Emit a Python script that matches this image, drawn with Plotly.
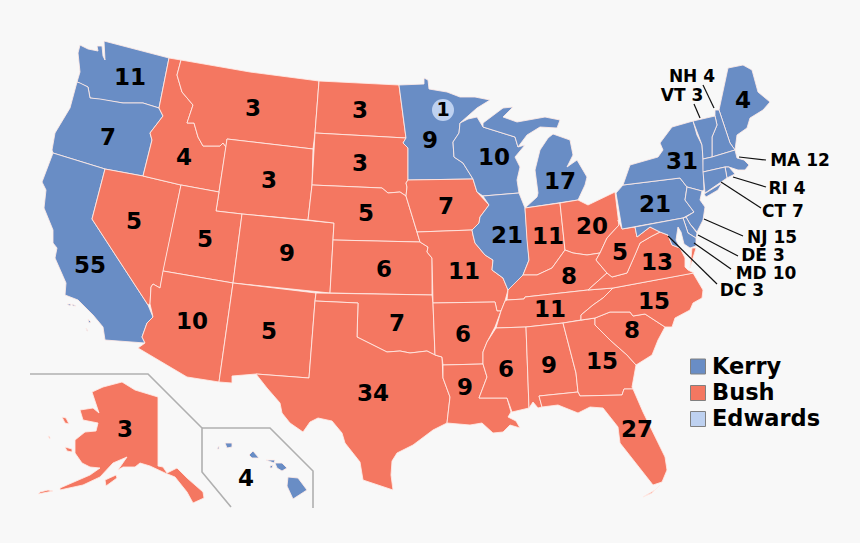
import plotly.graph_objects as go

# Party results
KERRY = "#698dc5"
BUSH = "#f47761"
EDWARDS = "#bed1f0"
BG = "#f8f8f8"

states = ["WA","OR","CA","NV","ID","MT","WY","UT","CO","AZ","NM","ND","SD","NE","KS","OK","TX","MN","IA","MO","AR","LA",
          "WI","IL","MI","IN","OH","KY","TN","MS","AL","GA","FL","SC","NC","VA","WV","PA","NY","ME","AK","HI",
          "NH","VT","MA","RI","CT","NJ","DE","MD","DC"]
votes = [11,7,55,5,4,3,3,5,9,10,5,3,3,5,6,7,34,9,7,11,6,9,10,21,17,11,20,8,11,6,9,15,27,8,15,13,5,21,31,4,3,4,
         4,3,12,4,7,15,3,10,3]
kerry_states = ["WA","OR","CA","MN","WI","IL","MI","PA","NY","ME","HI","NH","VT","MA","RI","CT","NJ","DE","MD","DC"]

# State outlines; there is no offline basemap
outlines = {
"WA": [[(104,41),(169,58),(159,108),(143,103),(123,103),(100,99),(90,98),(88,87),(80,83),(77,82),(80,72),(78,53),(80,45),(88,49),(98,51),(97,46),(102,46),(103,56),(105,60)]],
"OR": [[(77,82),(80,83),(88,87),(90,98),(100,99),(123,103),(143,103),(159,108),(163,116),(150,133),(152,140),(143,176),(105,169),(53,153),(52,150),(55,133),(70,108)]],
"CA": [[(53,153),(105,169),(92,219),(148,305),(153,317),(147,323),(142,337),(145,343),(105,340),(103,327),(93,315),(78,300),(65,295),(66,283),(55,258),(57,248),(53,243),(53,230),(44,208),(46,190),(42,182),(50,160)],
       [(67,304),(71,304),(70,306)],[(72,304),(76,306),(73,306)],[(88,319),(91,322),(89,323)],[(86,328),(88,331),(87,331)]],
"NV": [[(105,169),(143,176),(181,185),(163,271),(160,288),(153,284),(151,287),(150,304),(148,305),(92,219)]],
"ID": [[(169,58),(181,60),(177,75),(182,92),(193,105),(187,123),(194,123),(198,137),(203,146),(220,146),(223,143),(226,147),(219,192),(181,185),(143,176),(152,140),(150,133),(163,116),(159,108)]],
"MT": [[(181,60),(250,72),(319,81),(315,133),(313,149),(227,139),(226,147),(223,143),(220,146),(203,146),(198,137),(194,123),(187,123),(193,105),(182,92),(177,75)]],
"WY": [[(227,139),(313,149),(312,185),(308,220),(242,214),(216,211),(219,192)]],
"UT": [[(181,185),(219,192),(216,211),(242,214),(233,283),(163,271)]],
"CO": [[(242,214),(308,220),(334,223),(333,240),(330,293),(233,283)]],
"AZ": [[(163,271),(233,283),(219,382),(187,377),(138,348),(145,343),(142,337),(147,323),(153,317),(150,304),(151,287),(153,284),(160,288)]],
"NM": [[(233,283),(316,293),(315,301),(309,378),(256,374),(232,376),(232,383),(219,382)]],
"ND": [[(319,81),(399,85),(406,138),(315,133)]],
"SD": [[(315,133),(406,138),(403,143),(408,148),(408,180),(406,183),(407,187),(406,196),(400,192),(388,193),(382,188),(312,185)]],
"NE": [[(312,185),(382,188),(388,193),(400,192),(406,196),(417,232),(420,242),(333,240),(334,223),(308,220)]],
"KS": [[(333,240),(420,242),(428,247),(427,252),(432,258),(432,295),(330,293)]],
"OK": [[(316,293),(432,295),(433,303),(435,355),(427,351),(410,353),(400,351),(387,352),(377,347),(367,342),(357,337),(358,303),(315,301)]],
"TX": [[(315,301),(358,303),(357,337),(367,342),(377,347),(387,352),(400,351),(410,353),(427,351),(435,355),(442,357),(443,378),(450,397),(447,423),(433,430),(413,445),(403,450),(397,453),(392,461),(391,475),(393,490),(377,485),(363,480),(360,462),(345,443),(342,433),(332,421),(318,418),(310,422),(303,432),(290,423),(282,413),(280,403),(267,388),(256,374),(309,378)]],
"MN": [[(399,85),(424,84),(424,78),(428,80),(429,89),(447,92),(460,97),(475,97),(490,100),(477,108),(460,123),(459,133),(453,142),(454,157),(463,163),(473,179),(408,180),(408,148),(403,143),(406,138)]],
"IA": [[(408,180),(473,179),(477,192),(489,205),(480,217),(479,223),(472,230),(417,232),(406,196),(407,187),(406,183)]],
"MO": [[(417,232),(472,230),(473,235),(475,243),(485,255),(493,260),(492,270),(503,278),(508,290),(505,301),(501,311),(497,311),(495,302),(433,303),(432,258),(427,252),(428,247),(420,242)]],
"AR": [[(433,303),(495,302),(497,311),(501,311),(495,327),(487,342),(483,352),(483,364),(443,365),(442,357),(435,355)]],
"LA": [[(443,365),(483,364),(487,377),(479,398),(507,398),(511,412),(508,417),(516,421),(520,428),(510,425),(503,432),(493,433),(482,423),(470,425),(447,423),(450,397),(443,378)]],
"WI": [[(460,123),(468,119),(477,117),(483,127),(515,137),(518,147),(525,145),(515,157),(520,167),(517,180),(519,193),(483,196),(477,192),(473,179),(463,163),(454,157),(453,142),(459,133)]],
"IL": [[(483,196),(519,193),(525,208),(527,240),(529,260),(523,275),(520,283),(508,290),(503,278),(492,270),(493,260),(485,255),(475,243),(473,235),(472,230),(479,223),(480,217),(489,205)]],
"MI": [[(483,127),(483,123),(503,108),(513,107),(503,117),(517,122),(545,117),(560,120),(557,128),(540,127),(527,135),(518,147),(515,137)],
       [(553,134),(570,140),(573,155),(567,167),(577,160),(587,177),(585,185),(578,200),(525,208),(537,197),(538,193),(535,170),(540,150),(548,138)]],
"IN": [[(525,208),(560,203),(565,250),(552,268),(537,275),(523,275),(529,260),(527,240)]],
"OH": [[(560,203),(578,200),(588,205),(615,192),(619,225),(607,238),(600,253),(587,255),(573,253),(565,250)]],
"KY": [[(508,290),(523,275),(537,275),(552,268),(565,250),(573,253),(587,255),(600,253),(596,260),(607,273),(588,290),(525,297),(524,299),(507,300)]],
"TN": [[(507,300),(524,299),(525,297),(588,290),(613,288),(603,298),(593,305),(581,315),(581,320),(563,323),(526,327),(496,328),(501,311),(505,301)]],
"MS": [[(496,328),(526,327),(529,408),(512,412),(507,398),(479,398),(487,377),(483,364),(483,352),(487,342)]],
"AL": [[(526,327),(563,323),(576,373),(578,392),(539,396),(542,407),(538,408),(533,402),(529,408)]],
"GA": [[(563,323),(581,320),(595,318),(595,325),(610,340),(627,355),(636,365),(632,387),(633,389),(624,389),(622,395),(580,396),(578,392),(576,373)]],
"FL": [[(539,396),(578,392),(580,396),(622,395),(624,389),(633,389),(643,412),(665,457),(667,470),(662,482),(653,485),(640,468),(633,460),(620,443),(618,427),(603,408),(590,407),(578,413),(558,405),(542,407)],
       [(643,497),(655,490),(660,485),(652,493)]],
"SC": [[(595,318),(610,312),(630,312),(633,316),(645,314),(665,327),(658,340),(652,355),(636,365),(627,355),(610,340),(595,325)]],
"NC": [[(613,288),(693,273),(703,290),(702,298),(693,303),(690,310),(675,318),(672,327),(665,327),(645,314),(633,316),(630,312),(610,312),(595,318),(581,320),(581,315),(593,305),(603,298)]],
"VA": [[(660,232),(668,235),(672,245),(680,248),(685,258),(685,267),(688,270),(694,273),(613,288),(588,290),(607,273),(612,277),(627,273),(635,255),(640,243),(652,236)],
       [(692,248),(696,248),(693,258),(690,268)]],
"WV": [[(618,220),(622,229),(635,227),(637,237),(650,227),(660,232),(652,236),(640,243),(635,255),(627,273),(612,277),(607,273),(596,260),(600,253),(607,238),(619,225)]],
"PA": [[(616,193),(623,185),(680,178),(687,187),(685,200),(694,212),(683,218),(635,227),(622,229)]],
"NY": [[(623,185),(630,165),(658,157),(663,150),(660,143),(672,127),(693,121),(697,135),(702,145),(703,158),(704,190),(702,191),(687,187),(680,178)],
       [(704,194),(722,183),(718,190),(706,197)]],
"ME": [[(719,110),(725,83),(728,68),(743,65),(752,70),(758,92),(770,102),(763,110),(750,118),(747,128),(737,135),(735,150),(730,143)]],
"AK": [[(92,392),(103,387),(122,382),(135,390),(158,397),(158,466),(163,467),(167,473),(177,468),(187,478),(203,492),(204,498),(193,503),(187,492),(175,477),(165,473),(150,466),(140,463),(135,467),(123,467),(118,470),(127,457),(113,463),(100,477),(83,485),(60,490),(60,488),(90,475),(100,468),(90,467),(82,463),(75,453),(75,440),(85,432),(96,431),(98,423),(83,420),(80,410),(93,408),(99,413)],
       [(62,417),(66,418),(69,424),(65,423)],[(65,447),(72,449),(72,452),(67,451)],[(48,490),(53,491),(38,494),(40,492)],[(105,480),(116,475),(117,478),(106,486)],[(48,436),(50,437),(50,439)]],
"HI": [[(288,477),(298,478),(307,490),(293,499),(287,486)],[(275,463),(282,463),(287,468),(282,471),(277,468)],[(266,460),(275,460),(274,463)],[(249,455),(253,451),(259,458),(252,458)],
       [(225,443),(232,443),(232,447),(227,448)],[(217,449),(219,446),(219,449)],[(270,466),(273,465),(272,468),(270,468)]],
"NH": [[(715,116),(715,110),(719,110),(730,143),(735,150),(712,157),(712,137),(717,125)]],
"VT": [[(693,121),(715,116),(717,125),(712,137),(712,157),(703,159),(702,145)]],
"MA": [[(703,159),(712,157),(735,150),(737,158),(744,160),(749,165),(745,170),(738,170),(729,167),(725,167),(703,172)]],
"RI": [[(725,167),(729,167),(735,174),(727,178)]],
"CT": [[(703,172),(725,167),(727,178),(705,193)]],
"NJ": [[(687,187),(702,191),(700,200),(705,207),(703,220),(697,232),(690,224),(686,217),(694,212),(685,200)]],
"DE": [[(683,218),(686,217),(690,224),(697,233),(696,238),(688,233)]],
"MD": [[(635,227),(683,218),(688,233),(696,238),(696,246),(690,248),(684,244),(681,232),(678,227),(676,240),(680,248),(672,245),(668,235),(660,232),(650,227),(637,237)]],
}

# Where each state's number is printed
number_x = [130,108,90,134,184,253,269,205,287,192,269,360,360,366,384,397,373,430,446,464,463,465,494,507,560,548,592,569,550,506,549,602,637,632,654,657,620,655,682,743,125,246]
number_y = [79,139,267,223,159,110,182,241,255,323,333,112,165,215,271,325,395,142,208,273,336,389,159,237,183,238,228,278,311,371,367,363,431,332,303,264,254,206,163,102,431,480]

# Small north-eastern states use leader lines
callout_states = ["NH","VT","MA","RI","CT","NJ","DE","MD","DC"]
callout_x = [692,682,800,787,783,772,763,766,742]
callout_y = [78,97,162,190,213,239,257,275,292]
leader_x0 = [703,694,739,733,721,704,698,694,668]
leader_y0 = [85,104,157,177,182,219,235,243,236]
leader_x1 = [714,700,766,766,761,743,738,731,717]
leader_y1 = [108,118,160,187,208,236,256,269,284]

# Inset frames
frame1_x = [30,148,202,202,231]
frame1_y = [374,374,428,472,507]
frame2_x = [202,270,313,313]
frame2_y = [428,428,471,508]

legend_names = ["Kerry","Bush","Edwards"]
legend_colors = [KERRY,BUSH,EDWARDS]
legend_y = [366.5,393,419]
legend_text_y = [368,394,420]

fig = go.Figure()
FONT = "DejaVu Sans"

def add_lines(xs, ys, color, width):
    fig.add_trace(go.Scatter(x=xs, y=ys, mode="lines", line=dict(color=color, width=width),
                             hoverinfo="skip", showlegend=False))

for code, rings in outlines.items():
    xs, ys = [], []
    for ring in rings:
        xs += [p[0] for p in ring] + [ring[0][0], None]
        ys += [p[1] for p in ring] + [ring[0][1], None]
    col = KERRY if code in kerry_states else BUSH
    fig.add_trace(go.Scatter(x=xs, y=ys, mode="lines", fill="toself", fillcolor=col,
                             line=dict(color="rgba(255,235,230,0.85)", width=1), name=code,
                             hoverinfo="name", showlegend=False))

add_lines(frame1_x, frame1_y, "#b0b0b0", 1.6)
add_lines(frame2_x, frame2_y, "#b0b0b0", 1.6)

for a, b, c, d in zip(leader_x0, leader_y0, leader_x1, leader_y1):
    add_lines([a, c], [b, d], "#111111", 1.2)

# Faithless elector dot in Minnesota
fig.add_trace(go.Scatter(x=[443], y=[110], mode="markers", marker=dict(size=22, color=EDWARDS),
                         hoverinfo="skip", showlegend=False))
fig.add_trace(go.Scatter(x=[443], y=[111], mode="text", text=["1"], hoverinfo="skip", showlegend=False,
                         textfont=dict(family=FONT, size=19, color="black", weight="bold")))

vote_of = dict(zip(states, votes))
main_states = [s for s in states if s not in callout_states]
fig.add_trace(go.Scatter(x=number_x, y=number_y, mode="text",
                         text=[str(vote_of[s]) for s in main_states],
                         textfont=dict(family=FONT, size=23, color="black", weight="bold"),
                         hoverinfo="skip", showlegend=False))
fig.add_trace(go.Scatter(x=callout_x, y=callout_y, mode="text",
                         text=[f"{s} {vote_of[s]}" for s in callout_states],
                         textfont=dict(family=FONT, size=17, color="black", weight="bold"),
                         hoverinfo="skip", showlegend=False))

fig.add_trace(go.Scatter(x=[698]*3, y=legend_y, mode="markers",
                         marker=dict(symbol="square", size=15, color=legend_colors, line=dict(color="#808080", width=1)),
                         hoverinfo="skip", showlegend=False))
fig.add_trace(go.Scatter(x=[712]*3, y=legend_text_y, mode="text", text=legend_names, textposition="middle right",
                         textfont=dict(family=FONT, size=22.5, color="black", weight="bold"),
                         hoverinfo="skip", showlegend=False))

axis = dict(visible=False, fixedrange=True)
fig.update_layout(width=860, height=543, margin=dict(l=0, r=0, t=0, b=0), showlegend=False,
                  paper_bgcolor=BG, plot_bgcolor=BG,
                  xaxis=dict(range=[0, 860], **axis), yaxis=dict(range=[543, 0], **axis))
fig.write_html("out.html", config={"displayModeBar": False},
               post_script="document.body.style.margin='0';document.body.style.background='#f8f8f8';")
